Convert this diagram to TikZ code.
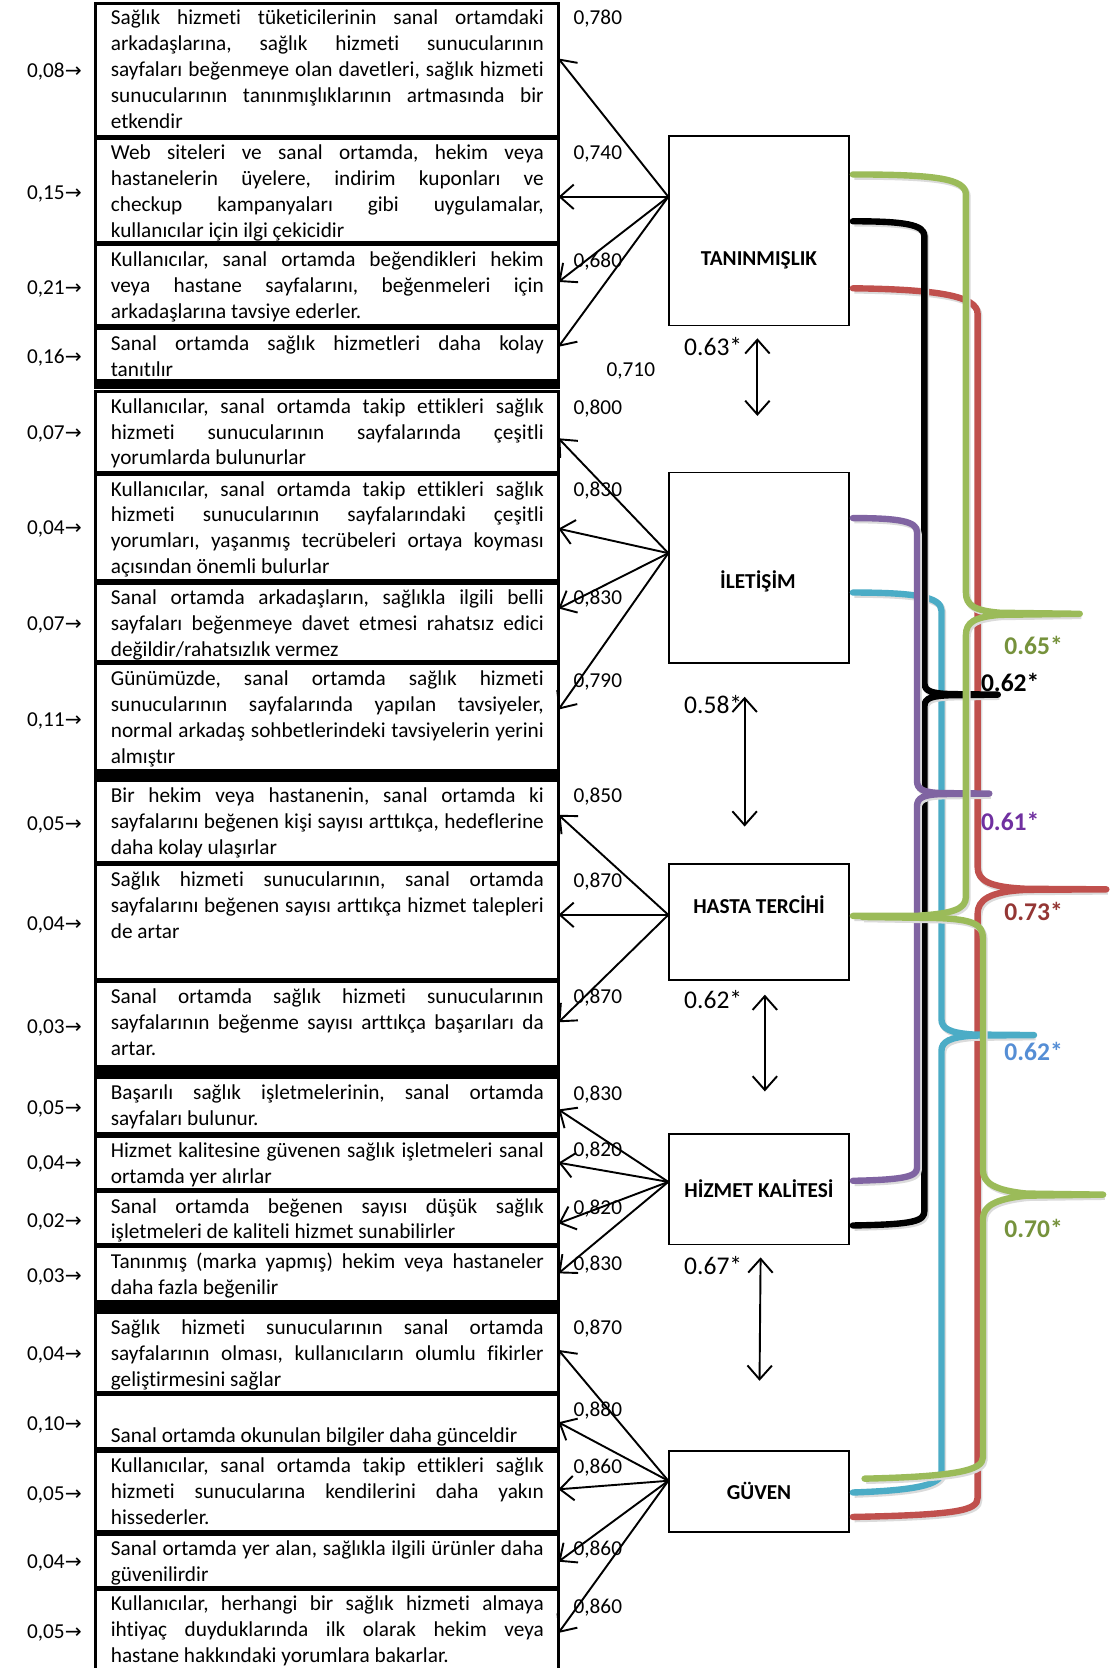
\documentclass[tikz,border=0pt]{standalone}
\usepackage{fontspec}
\setmainfont{Carlito}[Ligatures={NoCommon,NoContextual}, RawFeature={-liga;-clig;-calt;-dlig}]
\newfontfamily\arrowfont{DejaVu Sans}
\usetikzlibrary{arrows.meta,calc}
\definecolor{cgreen}{HTML}{9BBB59}
\definecolor{cred}{HTML}{C0504D}
\definecolor{cpurple}{HTML}{8064A2}
\definecolor{ccyan}{HTML}{4BACC6}
\definecolor{lgreen}{HTML}{76923C}
\definecolor{lred}{HTML}{943634}
\definecolor{lpurple}{HTML}{7030A0}
\definecolor{lblue}{HTML}{558ED5}
\newcommand\itemfont{\fontsize{20}{24.4}\selectfont}
\newcommand\JL[1]{\hbox to 407pt{\strut#1}}
\newcommand\LL[1]{\hbox{\strut#1}}
\newcommand\errarrow{{\fontsize{19}{20}\arrowfont →}}
\frenchspacing
\hbadness=10000
\hfuzz=30pt
\tikzset{
  itembox/.style={draw, line width=3pt, minimum width=435pt, anchor=north west, inner sep=0pt, outer sep=0pt},
  itemtext/.style={anchor=north west, inner sep=0pt, font=\itemfont},
  errlab/.style={anchor=east, inner sep=0pt, font=\itemfont, text height=13pt, text depth=0pt},
  ldlab/.style={anchor=west, inner sep=0pt, font=\itemfont, text height=13pt, text depth=0pt},
  latent/.style={draw, line width=1.5pt, minimum width=169pt, inner sep=0pt},
  latlab/.style={font=\fontsize{20}{24}\selectfont\bfseries, inner sep=0pt, text height=13pt, text depth=0pt},
  corrlab/.style={anchor=west, inner sep=0pt, font=\fontsize{24}{28}\selectfont, text height=16pt, text depth=0pt},
  collab/.style={anchor=west, inner sep=0pt, font=\fontsize{24}{28}\selectfont\bfseries, text height=16pt, text depth=0pt},
  barb/.tip={Straight Barb[length=13pt,width=23pt,line width=1.8pt]},
  load/.style={line width=1.8pt, -barb},
  corr/.style={line width=1.8pt, barb-barb},
  curve/.style={line width=6pt, line cap=round, line join=round,
    preaction={draw=black!14, line width=6pt, transform canvas={xshift=1.5pt,yshift=-2pt}}},
  sepbar/.style={fill=black}
}
\newcommand\mkitem[4]{%
  \node[itembox, minimum height=#3pt] (b#1) at (90,#2) {};
  \node[itemtext] (t#1) at (104,#2+3) {\vbox{#4}};
}
\begin{document}
\begin{tikzpicture}[x=1pt,y=-1pt]
\fill[white] (0,0) rectangle (1043,1568);
\useasboundingbox (0,0) rectangle (1043,1568);

% ---------- item boxes ----------
\mkitem{1}{3}{125}{\JL{Sağlık hizmeti tüketicilerinin sanal ortamdaki}\JL{arkadaşlarına, sağlık hizmeti sunucularının}\JL{sayfaları beğenmeye olan davetleri, sağlık hizmeti}\JL{sunucularının tanınmışlıklarının artmasında bir}\LL{etkendir}}
\mkitem{2}{130}{98}{\JL{Web siteleri ve sanal ortamda, hekim veya}\JL{hastanelerin üyelere, indirim kuponları ve}\JL{checkup kampanyaları gibi uygulamalar,}\LL{kullanıcılar için ilgi çekicidir}}
\mkitem{3}{230}{76}{\JL{Kullanıcılar, sanal ortamda beğendikleri hekim}\JL{veya hastane sayfalarını, beğenmeleri için}\LL{arkadaşlarına tavsiye ederler.}}
\mkitem{4}{309}{49}{\JL{Sanal ortamda sağlık hizmetleri daha kolay}\LL{tanıtılır}}
\mkitem{5}{368}{76}{\JL{Kullanıcılar, sanal ortamda takip ettikleri sağlık}\JL{hizmeti sunucularının sayfalarında çeşitli}\LL{yorumlarda bulunurlar}}
\mkitem{6}{446}{100}{\JL{Kullanıcılar, sanal ortamda takip ettikleri sağlık}\JL{hizmeti sunucularının sayfalarındaki çeşitli}\JL{yorumları, yaşanmış tecrübeleri ortaya koyması}\LL{açısından önemli bulurlar}}
\mkitem{7}{548}{74}{\JL{Sanal ortamda arkadaşların, sağlıkla ilgili belli}\JL{sayfaları beğenmeye davet etmesi rahatsız edici}\LL{değildir/rahatsızlık vermez}}
\mkitem{8}{624}{100}{\JL{Günümüzde, sanal ortamda sağlık hizmeti}\JL{sunucularının sayfalarında yapılan tavsiyeler,}\JL{normal arkadaş sohbetlerindeki tavsiyelerin yerini}\LL{almıştır}}
\mkitem{9}{734}{77}{\JL{Bir hekim veya hastanenin, sanal ortamda ki}\JL{sayfalarını beğenen kişi sayısı arttıkça, hedeflerine}\LL{daha kolay ulaşırlar}}
\mkitem{10}{813}{108}{\JL{Sağlık hizmeti sunucularının, sanal ortamda}\JL{sayfalarını beğenen sayısı arttıkça hizmet talepleri}\LL{de artar}}
\mkitem{11}{923}{80}{\JL{Sanal ortamda sağlık hizmeti sunucularının}\JL{sayfalarının beğenme sayısı arttıkça başarıları da}\LL{artar.}}
\mkitem{12}{1013}{53}{\JL{Başarılı sağlık işletmelerinin, sanal ortamda}\LL{sayfaları bulunur.}}
\mkitem{13}{1068}{50}{\JL{Hizmet kalitesine güvenen sağlık işletmeleri sanal}\LL{ortamda yer alırlar}}
\mkitem{14}{1120}{50}{\JL{Sanal ortamda beğenen sayısı düşük sağlık}\LL{işletmeleri de kaliteli hizmet sunabilirler}}
\mkitem{15}{1172}{52}{\JL{Tanınmış (marka yapmış) hekim veya hastaneler}\LL{daha fazla beğenilir}}
\mkitem{16}{1234}{75}{\JL{Sağlık hizmeti sunucularının sanal ortamda}\JL{sayfalarının olması, kullanıcıların olumlu fikirler}\LL{geliştirmesini sağlar}}
\mkitem{17}{1311}{51}{\LL{}\LL{Sanal ortamda okunulan bilgiler daha günceldir}}
\mkitem{18}{1364}{76}{\JL{Kullanıcılar, sanal ortamda takip ettikleri sağlık}\JL{hizmeti sunucularına kendilerini daha yakın}\LL{hissederler.}}
\mkitem{19}{1442}{50}{\JL{Sanal ortamda yer alan, sağlıkla ilgili ürünler daha}\LL{güvenilirdir}}
\mkitem{20}{1494}{90}{\JL{Kullanıcılar, herhangi bir sağlık hizmeti almaya}\JL{ihtiyaç duyduklarında ilk olarak hekim veya}\LL{hastane hakkındaki yorumlara bakarlar.}}

% group separators
\fill[sepbar] (88.5,357) rectangle (526.5,366);
\fill[sepbar] (88.5,723) rectangle (526.5,732);
\fill[sepbar] (88.5,1003) rectangle (526.5,1012);
\fill[sepbar] (88.5,1224) rectangle (526.5,1233);

% ---------- error labels ----------
\foreach \i/\v/\y in {1/08/66, 2/15/181, 3/21/270, 4/16/335, 5/07/407, 6/04/496, 7/07/586, 8/11/676,
  9/05/774, 10/04/868, 11/03/965, 12/05/1041, 13/04/1093, 14/02/1147, 15/03/1199,
  16/04/1272, 17/10/1338, 18/05/1404, 19/04/1468, 20/05/1534}
  \node[errlab] (e\i) at (77,\y) {0,\v\errarrow};

% ---------- loading labels ----------
\foreach \i/\v/\y in {1/780/17, 2/740/143, 3/680/245, 5/800/383, 6/830/460, 7/830/562, 8/790/640,
  9/850/748, 10/870/828, 11/870/937, 12/830/1028, 13/820/1081, 14/820/1135, 15/830/1188,
  16/870/1248, 17/880/1325, 18/860/1379, 19/860/1456, 20/860/1510}
  \node[ldlab] (l\i) at (539,\y) {0,\v};
\node[ldlab] (l4) at (570,347) {0,710};

% ---------- latent boxes ----------
\node[latent, minimum height=178pt] (tan) at (713.5,217) {};
\node[latlab] (tanl) at (713.5,243) {TANINMIŞLIK};
\node[latent, minimum height=179pt] (ile) at (713.5,533.5) {};
\node[latlab] (ilel) at (712.5,547) {İLETİŞİM};
\node[latent, minimum height=109pt] (has) at (713.5,866.5) {};
\node[latlab] (hasl) at (713.5,852) {HASTA TERCİHİ};
\node[latent, minimum height=104pt] (hiz) at (713.5,1118) {};
\node[latlab] (hizl) at (713.5,1119) {HİZMET KALİTESİ};
\node[latent, minimum height=76pt] (guv) at (713.5,1402) {};
\node[latlab] (guvl) at (713.5,1403) {GÜVEN};

\path (tan.west) ++(0,-32) coordinate (tanO);
\path (ile.west) ++(0,-13.5) coordinate (ileO);
\path (has.west) ++(0,-6.5) coordinate (hasO);
\path (hiz.west) ++(0,-7) coordinate (hizO);
\path (guv.west) ++(0,-10) coordinate (guvO);

% ---------- loading arrows ----------
\foreach \o/\t/\y in {tanO/1/55, tanO/2/185, tanO/3/265, tanO/4/326,
  ileO/5/412, ileO/6/497, ileO/7/572, ileO/8/667,
  hasO/9/766, hasO/10/860, hasO/11/961,
  hizO/12/1043, hizO/13/1093, hizO/14/1150, hizO/15/1197,
  guvO/16/1269, guvO/17/1337, guvO/18/1400, guvO/19/1468, guvO/20/1535}
{
  \coordinate (ty) at (0,\y);
  \draw[load] (\o) -- (b\t.east |- ty);
}

% ---------- correlations between neighbours ----------
\coordinate (k1a) at (712,318); \coordinate (k1b) at (712,391);
\draw[corr] (k1a) -- (k1b);
\node[corrlab] (k1) at (643,326) {0.63*};
\coordinate (k2a) at (700,655); \coordinate (k2b) at (700,777);
\draw[corr] (k2a) -- (k2b);
\node[corrlab] (k2) at (643,663) {0.58*};
\coordinate (k3a) at (719,935); \coordinate (k3b) at (719,1026);
\draw[corr] (k3a) -- (k3b);
\node[corrlab] (k3) at (643,940) {0.62*};
\coordinate (k4a) at (715,1182); \coordinate (k4b) at (714,1298);
\draw[corr] (k4a) -- (k4b);
\node[corrlab] (k4) at (643,1190) {0.67*};

% ---------- coloured correlation braces ----------
% red: TANINMISLIK - GUVEN
\draw[curve, cred] ([xshift=3pt,yshift=-54pt]tan.east) .. controls (880,272) and (919,278) .. (919,295)
  -- (919,815) .. controls (919,828) and (930,834) .. (965,835.5) -- (1040,836)
  -- (965,836.5) .. controls (930,838) and (919,846) .. (919,859)
  -- (919,1408) .. controls (919,1420) and (900,1424) .. ([xshift=3pt,yshift=-24pt]guv.east);
% cyan: ILETISIM - GUVEN
\draw[curve, ccyan] ([xshift=3pt,yshift=-23.5pt]ile.east) .. controls (860,557) and (885,561) .. (885,574)
  -- (885,958) .. controls (885,967) and (893,971) .. (915,972.5) -- (972,973)
  -- (915,973.5) .. controls (893,975) and (885,979) .. (885,988)
  -- (885,1384) .. controls (885,1396) and (860,1401) .. ([xshift=3pt,yshift=-1pt]guv.east);
% black: TANINMISLIK - HIZMET KALITESI
\draw[curve, black] ([xshift=3pt,yshift=9pt]tan.east) .. controls (850,208) and (869,211) .. (869,222)
  -- (869,642) .. controls (869,650) and (876,652) .. (895,652.5) -- (938,653)
  -- (895,653.5) .. controls (876,654) and (869,656) .. (869,664)
  -- (869,1138) .. controls (869,1148) and (860,1151) .. ([xshift=3pt,yshift=-34pt]hiz.east);
% purple: ILETISIM - HIZMET KALITESI
\draw[curve, cpurple] ([xshift=3pt,yshift=46.5pt]ile.east) .. controls (845,487) and (862,490) .. (862,500)
  -- (862,734) .. controls (862,742) and (868,745) .. (885,745.5) -- (930,746)
  -- (885,746.5) .. controls (868,747) and (862,750) .. (862,758)
  -- (862,1098) .. controls (862,1106) and (850,1109) .. ([xshift=3pt,yshift=8pt]hiz.east);
% green A: TANINMISLIK - HASTA TERCIHI
\draw[curve, cgreen] ([xshift=3pt,yshift=53pt]tan.east) .. controls (880,164) and (908,168) .. (908,183)
  -- (908,557) .. controls (908,569) and (916,574) .. (940,576) -- (1015,577)
  -- (940,578) .. controls (916,580) and (908,585) .. (908,597)
  -- (908,843) .. controls (908,855) and (895,859) .. (860,861) -- ([xshift=3pt,yshift=5.5pt]has.east);
% green B: HASTA TERCIHI - GUVEN
\draw[curve, cgreen] ([xshift=12pt,yshift=4.5pt]has.east) -- (880,863) .. controls (915,864) and (924,869) .. (924,882)
  -- (924,1100) .. controls (924,1112) and (935,1119) .. (965,1122) -- (1037,1123)
  -- (965,1124) .. controls (935,1127) and (924,1134) .. (924,1146)
  -- (924,1370) .. controls (924,1382) and (900,1388) .. ([xshift=14pt,yshift=12pt]guv.east);

\node[collab, text=lgreen] (r1) at (944,607) {0.65*};
\node[collab, text=black] (r2) at (922,642) {0.62*};
\node[collab, text=lpurple] (r3) at (922,773) {0.61*};
\node[collab, text=lred] (r4) at (944,857) {0.73*};
\node[collab, text=lblue] (r5) at (944,989) {0.62*};
\node[collab, text=lgreen] (r6) at (944,1155) {0.70*};
\end{tikzpicture}
\end{document}
